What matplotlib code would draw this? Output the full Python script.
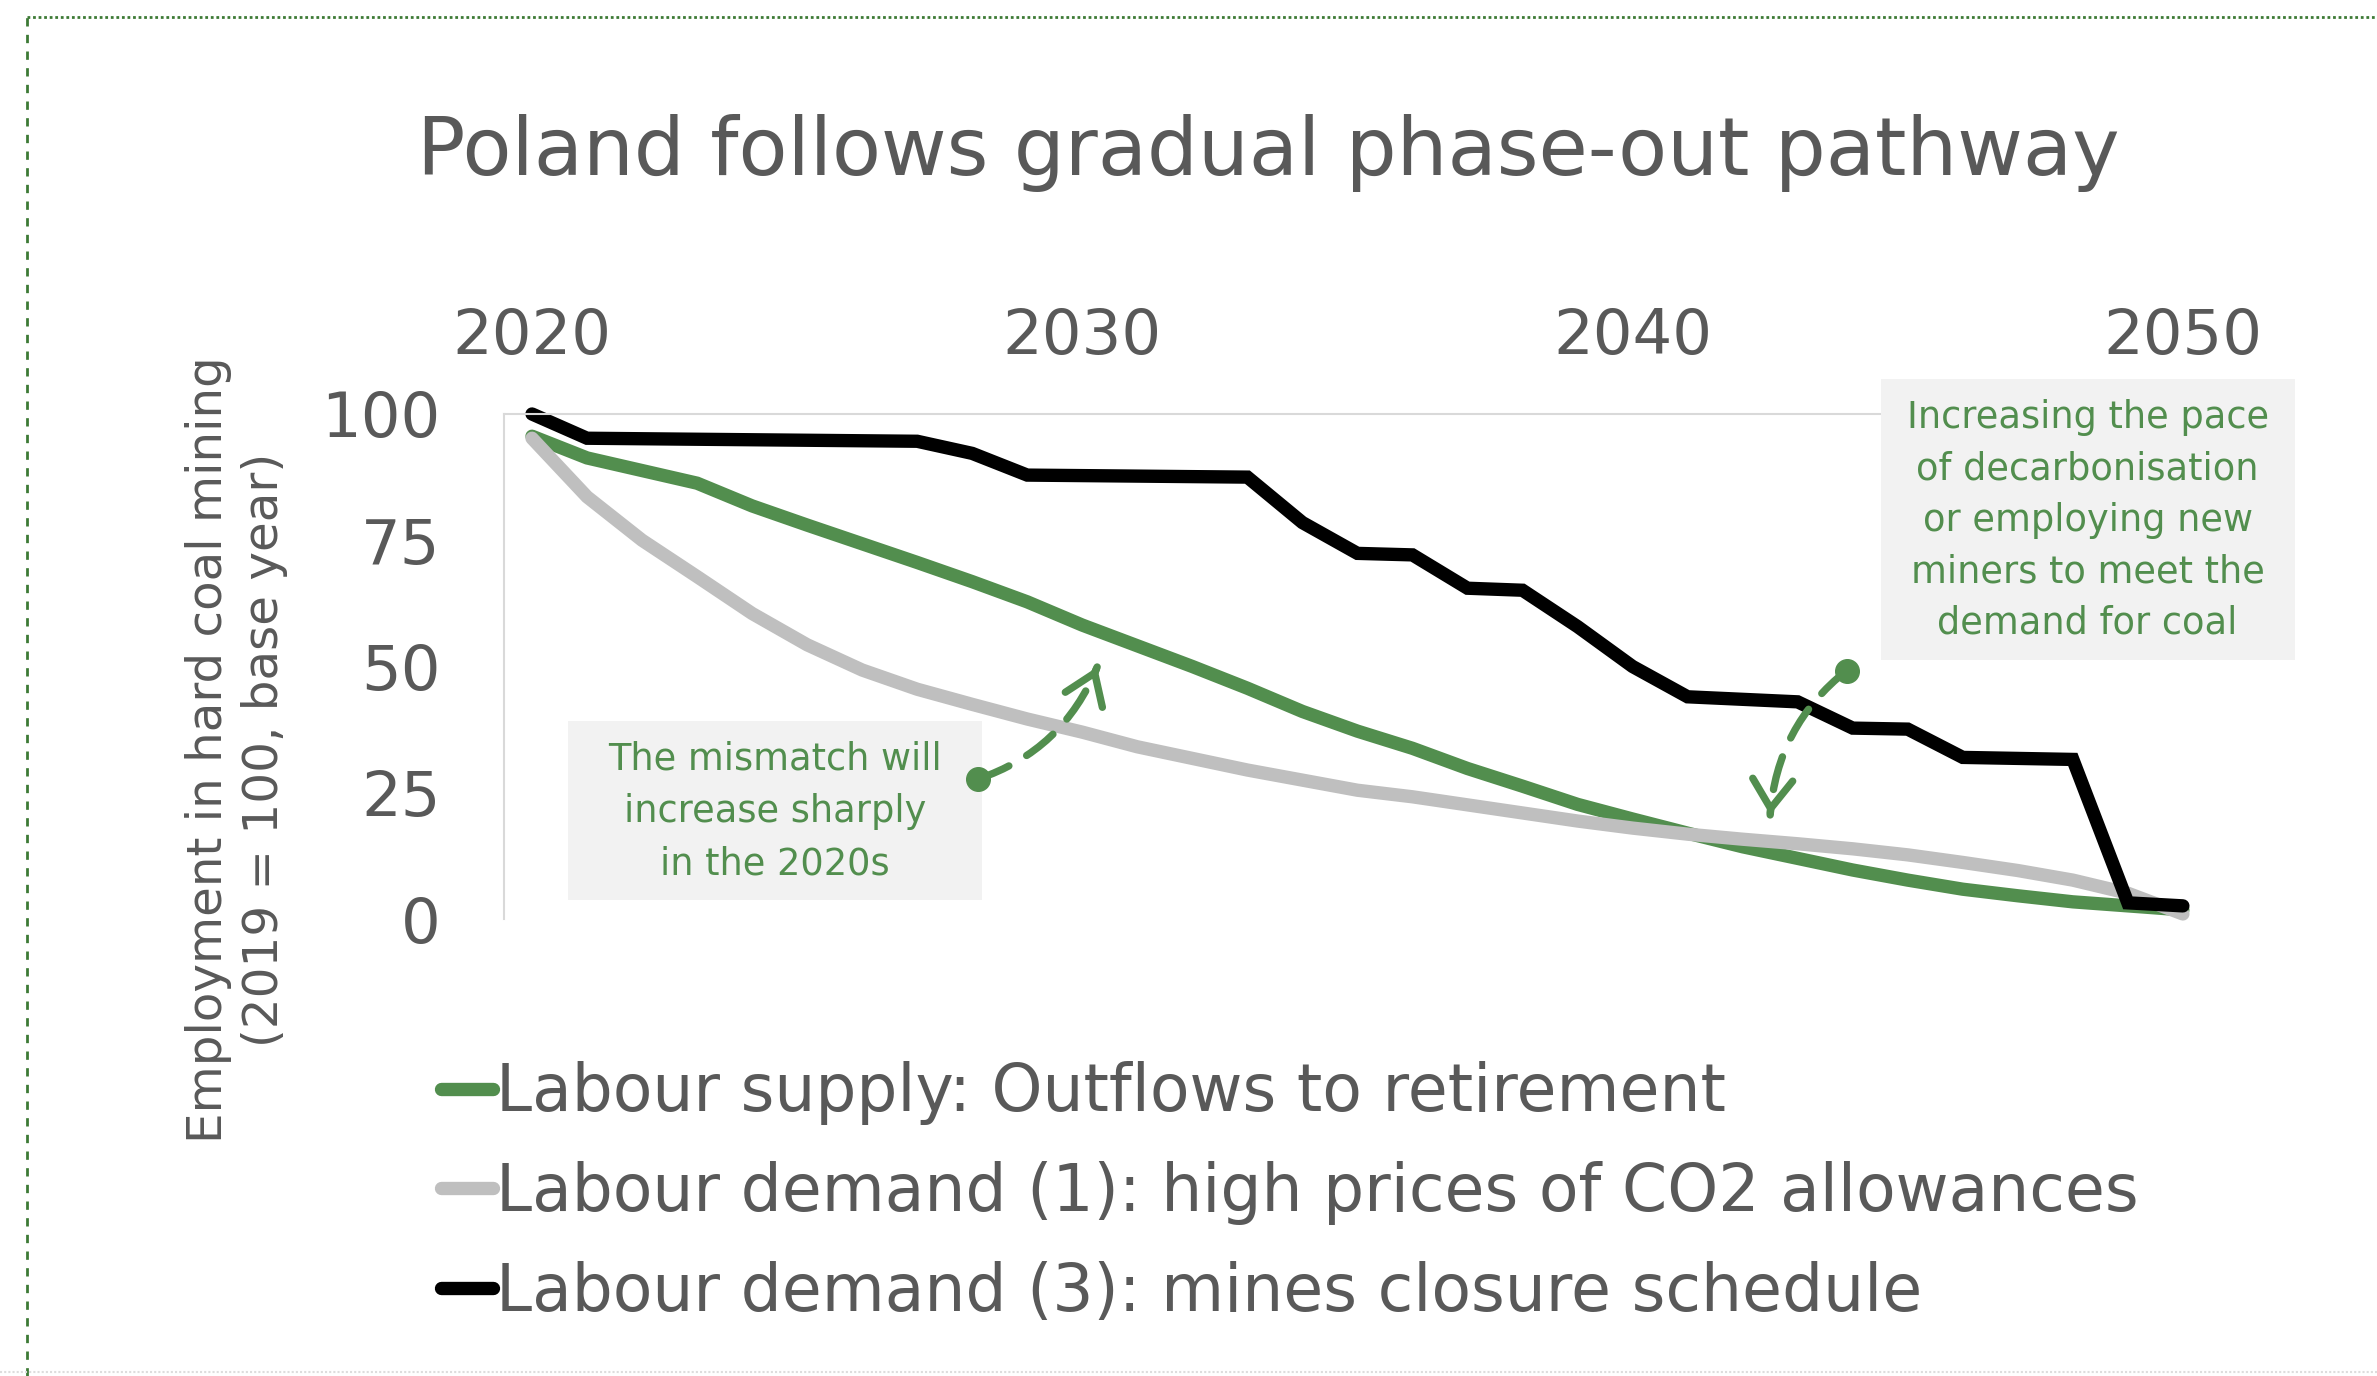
import numpy as np
import matplotlib.pyplot as plt
from matplotlib.lines import Line2D
from matplotlib.patches import Rectangle

years = list(range(2020, 2051))

# Labour supply: outflows to retirement (2019 = 100)
supply = [95.6, 91.3, 88.8, 86.3, 81.8, 78.0, 74.3, 70.6, 66.8, 62.8,
          58.2, 54.1, 50.0, 45.7, 41.1, 37.2, 33.8, 29.8, 26.3, 22.7,
          19.8, 17.0, 14.3, 12.0, 9.7, 7.7, 5.9, 4.6, 3.4, 2.6,
          1.8]
# Labour demand (1): high prices of CO2 allowances
demand_co2 = [95.2, 83.6, 75.0, 67.8, 60.5, 54.3, 49.3, 45.5, 42.5, 39.6,
              37.0, 34.1, 31.8, 29.5, 27.5, 25.5, 24.2, 22.6, 21.0, 19.4,
              18.0, 16.8, 15.8, 14.9, 13.9, 12.7, 11.2, 9.6, 7.7, 5.1,
              1.0]
# Labour demand (3): mines closure schedule
demand_closure = [100.0, 95.2, 95.1, 95.0, 94.9, 94.8, 94.7, 94.6, 92.2, 87.9,
                  87.8, 87.7, 87.6, 87.5, 78.5, 72.4, 72.1, 65.5, 65.1, 57.9,
                  50.0, 44.0, 43.5, 43.0, 37.8, 37.6, 32.0, 31.8, 31.6, 3.2,
                  2.6]

labels = ["Labour supply: Outflows to retirement",
          "Labour demand (1): high prices of CO2 allowances",
          "Labour demand (3): mines closure schedule"]
x_ticks = [2020, 2030, 2040, 2050]
y_ticks = [0, 25, 50, 75, 100]

title = "Poland follows gradual phase-out pathway"
y_label = "Employment in hard coal mining\n(2019 = 100, base year)"
note_left = "The mismatch will\nincrease sharply\nin the 2020s"
note_right = "Increasing the pace\nof decarbonisation\nor employing new\nminers to meet the\ndemand for coal"

GREEN = '#528e4e'
GREY = '#bfbfbf'
TEXT = '#595959'

fig = plt.figure(figsize=(23.77, 13.76), dpi=100)
ax = fig.add_axes([0.21224, 0.33212, 0.71767, 0.36701])

line_kw = dict(lw=9.6, solid_capstyle='round', solid_joinstyle='miter', clip_on=False)
l1, = ax.plot(years, supply, color=GREEN, label=labels[0], **line_kw)
l2, = ax.plot(years, demand_co2, color=GREY, label=labels[1], **line_kw)
l3, = ax.plot(years, demand_closure, color='black', label=labels[2], **line_kw)

ax.set_xlim(2019.5, 2050.5)
ax.set_ylim(0, 100)
ax.xaxis.tick_top()
ax.set_xticks(x_ticks)
ax.set_yticks(y_ticks)
ax.tick_params(axis='x', length=0, pad=34, labelsize=45, labelcolor=TEXT)
ax.tick_params(axis='y', length=0, pad=46, labelsize=45, labelcolor=TEXT)
for side in ['bottom', 'right']:
    ax.spines[side].set_visible(False)
for side in ['left', 'top']:
    ax.spines[side].set_color('#d9d9d9')
    ax.spines[side].set_linewidth(1.5)

# callout boxes
ax.add_patch(Rectangle((2020.65, 3.8), 7.53, 35.4, facecolor='#f2f2f2',
                       edgecolor='none', clip_on=False, zorder=3))
ax.text(2024.42, 21.3, note_left, ha='center', va='center', fontsize=26.5,
        color=GREEN, linespacing=1.52, zorder=4)
ax.add_patch(Rectangle((2044.51, 51.3), 7.53, 55.6, facecolor='#f2f2f2',
                       edgecolor='none', clip_on=False, zorder=3))
ax.text(2048.27, 79.0, note_right, ha='center', va='center', fontsize=26.5,
        color=GREEN, linespacing=1.5, zorder=4, clip_on=False)


def curved_arrow(start, end, rad):
    # dashed curved body, solid open head, dot at the tail
    p1 = ax.transData.transform(start)
    p2 = ax.transData.transform(end)
    d = p2 - p1
    ctrl = (p1 + p2) / 2 + rad * np.array([d[1], -d[0]])
    tang = (p2 - ctrl) / np.hypot(*(p2 - ctrl))
    head_from = ax.transData.inverted().transform(p2 - tang * 2)
    ax.annotate('', xy=end, xytext=start, annotation_clip=False, zorder=5,
                arrowprops=dict(arrowstyle='-', connectionstyle='arc3,rad=%s' % rad,
                                color=GREEN, lw=5.3, linestyle=(0, (4.6, 2.8)),
                                shrinkA=0, shrinkB=0))
    ax.annotate('', xy=end, xytext=head_from, annotation_clip=False, zorder=5,
                arrowprops=dict(arrowstyle='->,head_length=0.52,head_width=0.36',
                                color=GREEN, lw=5.3, capstyle='round',
                                mutation_scale=40, shrinkA=0, shrinkB=0))
    ax.plot(*start, 'o', color=GREEN, markersize=17, zorder=5, clip_on=False)


curved_arrow((2028.1, 27.7), (2030.27, 49.9), 0.23)
curved_arrow((2043.89, 49.2), (2042.5, 20.6), 0.22)

fig.text(0.5335, 1 - 175 / 1376, title, ha='center', va='baseline',
         fontsize=57.8, color=TEXT)
fig.text(236.5 / 2377, 1 - 750 / 1376, y_label, rotation=90, ha='center',
         va='center', multialignment='center', fontsize=34.8, color=TEXT,
         linespacing=1.25)

fig.legend(handles=[l1, l2, l3], loc='center left',
           bbox_to_anchor=(441 / 2377, 1 - 1193 / 1376), frameon=False,
           fontsize=46.6, labelcolor=TEXT, handlelength=0.8, handletextpad=0.05,
           labelspacing=0.55, borderpad=0, borderaxespad=0)

# page frame around the chart
fig.add_artist(Line2D([27 / 2377, 1], [1 - 17 / 1376] * 2, color='#3d7a35',
                      lw=2, linestyle=(0, (1, 1))))
fig.add_artist(Line2D([27 / 2377] * 2, [0, 1 - 17 / 1376], color='#3d7a35',
                      lw=2, linestyle=(0, (3, 3))))
fig.add_artist(Line2D([0, 1], [4 / 1376] * 2, color='#dddddd',
                      lw=1.5, linestyle=(0, (1, 1))))

fig.savefig('out.png', dpi=100)
plt.close(fig)
